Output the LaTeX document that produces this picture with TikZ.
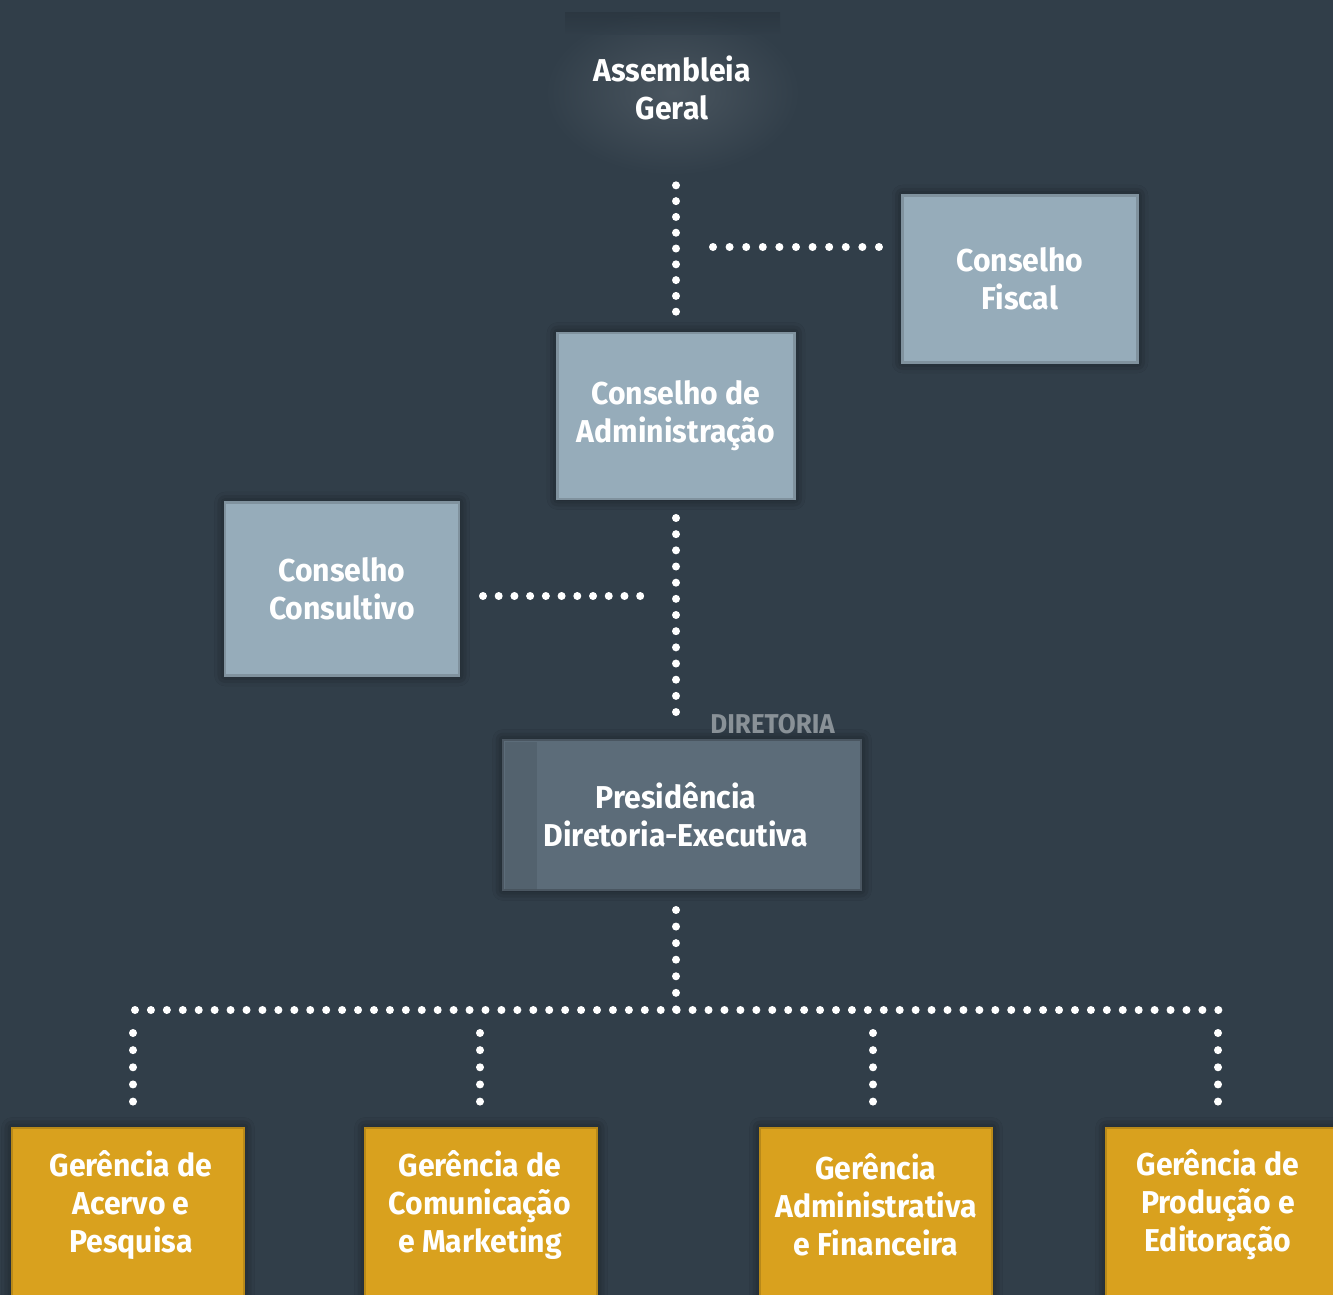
\documentclass[tikz,border=0pt]{standalone}
\usepackage{fontspec}
\setmainfont{Fira Sans}[FakeStretch=0.955]
\usetikzlibrary{shadows.blur}

\definecolor{bgslate}{HTML}{313E49}
\definecolor{consfill}{HTML}{96ACBA}
\definecolor{presfill}{HTML}{5C6C79}
\definecolor{gerfill}{HTML}{D9A11E}
\definecolor{labelgrey}{HTML}{899197}

\tikzset{
  boxtext/.style={font=\bfseries\fontsize{18}{21.6}\selectfont, text=white, align=center},
  conbox/.style={boxtext, fill=consfill, draw=consfill!85!black, line width=1.5pt, outer sep=0pt,
    minimum width=4.7cm, minimum height=3.34cm,
    blur shadow={shadow xshift=0pt, shadow yshift=0pt, shadow blur radius=6pt, shadow opacity=60}},
  presbox/.style={boxtext, fill=presfill, draw=presfill!80!black, line width=1.5pt, outer sep=0pt,
    minimum width=7.16cm, minimum height=3cm,
    blur shadow={shadow xshift=0pt, shadow yshift=0pt, shadow blur radius=6pt, shadow opacity=60}},
  gerbox/.style={fill=gerfill, draw=gerfill!85!black, line width=1.5pt, outer sep=0pt,
    minimum width=4.64cm, minimum height=4cm, anchor=north,
    blur shadow={shadow xshift=0pt, shadow yshift=0pt, shadow blur radius=6pt, shadow opacity=60}},
  dots/.style={white, line width=0.16cm, line cap=round, dash pattern=on 0pt off #1},
  dots/.default=0.32cm,
}

\begin{document}
\begin{tikzpicture}[x=0.02cm, y=-0.02cm]

    \useasboundingbox (0,0) rectangle (1333,1295);
    \clip (0,0) rectangle (1333,1295);
    \fill[bgslate] (0,0) rectangle (1333,1295);

    % Assembleia Geral (no box, soft glow)
    \shade[inner color=bgslate!88!white, outer color=bgslate] (545,10) rectangle (800,175);
    \shade[top color=bgslate!80!black, bottom color=bgslate, opacity=0.5] (565,12) rectangle (780,34);
    \node[boxtext, minimum width=4.7cm, minimum height=3.1cm] (assembleia) at (672,88) {Assembleia\\Geral};

    % Conselhos
    \node[conbox] (fiscal) at (1020,279) {Conselho\\Fiscal};
    \node[conbox, minimum width=4.74cm, minimum height=3.32cm] (admin) at (676,416) {Conselho de\\Administração};
    \node[conbox, minimum width=4.68cm, minimum height=3.46cm] (consultivo) at (342,589) {Conselho\\Consultivo};

    % Diretoria
    \node[presbox] (presidencia) at (682,815) {\hspace*{-0.24cm}Presidência\\\hspace*{-0.24cm}Diretoria-Executiva};
    \fill[presfill!75!black, opacity=0.35] ([xshift=1pt,yshift=-1pt]presidencia.north west) rectangle ++(32,148);
    \node[font=\bfseries\fontsize{15.5}{18}\selectfont, text=labelgrey, anchor=east] (diretoria) at (841,724) {DIRETORIA};

    % Gerencias
    \node[gerbox] (acervo) at (128,1128) {};
    \node[gerbox] (comunicacao) at (481,1128) {};
    \node[gerbox] (financeira) at (876,1128) {};
    \node[gerbox] (producao) at (1222,1128) {};
    \node[boxtext] at (131,1205) {Gerência de\\Acervo e\\Pesquisa};
    \node[boxtext] at (480,1205) {Gerência de\\Comunicação\\e Marketing};
    \node[boxtext] at (876,1205) {Gerência\\Administrativa\\e Financeira};
    \node[boxtext] at (1218,1205) {Gerência de\\Produção e\\Editoração};

    % junction points
    \coordinate (fj) at (713,247);
    \coordinate (cj) at (641,596);
    \coordinate (bar) at (676,1010);
    \coordinate (barL) at (135,1010);
    \coordinate (barR) at (1219,1010);

    % dotted connectors
    \draw[dots=0.316cm, shorten <=0.39cm, shorten >=0.42cm] (assembleia.south -| admin.north) -- (admin.north);
    \draw[dots=0.332cm, shorten >=0.45cm] (fj) -- (fiscal.west |- fj);
    \draw[dots=0.3235cm, shorten <=0.38cm, shorten >=0.5cm] (admin.south) -- (presidencia.north -| admin.south);
    \draw[dots=0.3145cm, shorten <=0.48cm] (consultivo.east |- cj) -- (cj);
    \draw[dots=0.3315cm, shorten <=0.4cm] (presidencia.south -| bar) -- (bar);
    \draw[dots=0.3187cm] (barL) -- (barR);
    \foreach \g/\x in {acervo/133, comunicacao/480, financeira/873, producao/1218}
      \draw[dots=0.343cm, shorten <=0.46cm, shorten >=0.52cm] (\x,1010) -- (\g.north -| \x,0);

\end{tikzpicture}
\end{document}
